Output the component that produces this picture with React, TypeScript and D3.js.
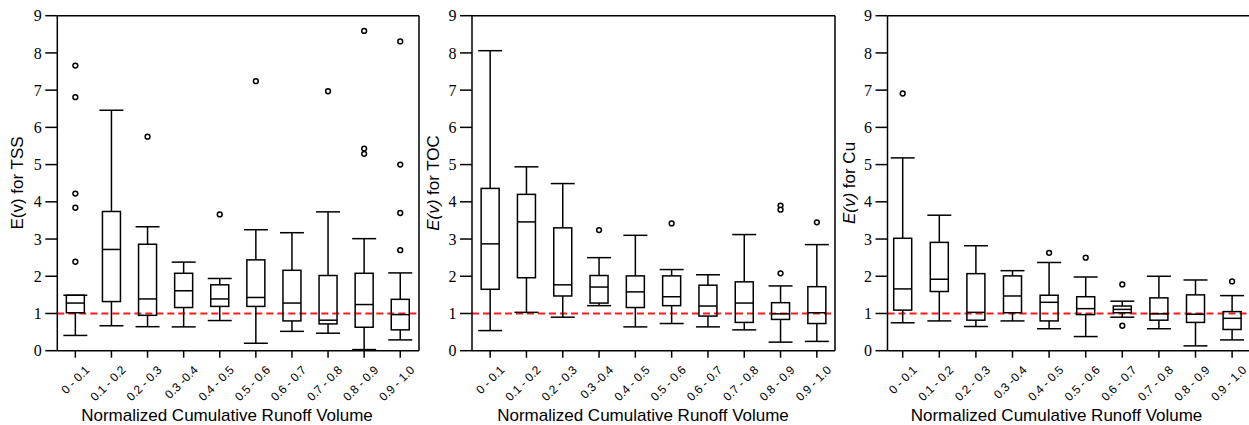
import React from "react";
import * as d3 from "d3";

const categories = ["0 - 0.1", "0.1 - 0.2", "0.2 - 0.3", "0.3 -0.4", "0.4 - 0.5", "0.5 - 0.6", "0.6 - 0.7", "0.7 - 0.8", "0.8 - 0.9", "0.9 - 1.0"];
const yTicks = [0, 1, 2, 3, 4, 5, 6, 7, 8, 9];

// [low whisker, Q1, median, Q3, high whisker]
const tssStats = [
  [0.41, 1.02, 1.28, 1.49, 1.49],
  [0.67, 1.32, 2.72, 3.74, 6.46],
  [0.645, 0.95, 1.39, 2.86, 3.33],
  [0.64, 1.16, 1.61, 2.08, 2.38],
  [0.81, 1.19, 1.39, 1.77, 1.94],
  [0.2, 1.19, 1.43, 2.44, 3.25],
  [0.52, 0.8, 1.28, 2.16, 3.17],
  [0.47, 0.72, 0.82, 2.02, 3.73],
  [0.03, 0.63, 1.24, 2.08, 3.01],
  [0.29, 0.56, 0.97, 1.38, 2.09],
];
const tssOutliers = [
  [7.66, 6.81, 4.22, 3.84, 2.39],
  [],
  [5.75],
  [],
  [3.66],
  [7.24],
  [],
  [6.97],
  [8.59, 5.43, 5.29],
  [8.31, 5.0, 3.7, 2.7],
];

const tocStats = [
  [0.54, 1.65, 2.87, 4.36, 8.06],
  [1.03, 1.96, 3.46, 4.2, 4.94],
  [0.9, 1.47, 1.77, 3.3, 4.49],
  [1.21, 1.28, 1.71, 2.02, 2.5],
  [0.64, 1.16, 1.58, 2.01, 3.1],
  [0.73, 1.21, 1.45, 2.01, 2.18],
  [0.64, 0.93, 1.2, 1.76, 2.04],
  [0.56, 0.76, 1.28, 1.85, 3.12],
  [0.23, 0.84, 0.99, 1.29, 1.74],
  [0.25, 0.73, 1.02, 1.72, 2.85],
];
const tocOutliers = [
  [], [], [], [3.24], [], [3.42], [], [], [3.9, 3.79, 2.08], [3.45],
];

const cuStats = [
  [0.75, 1.09, 1.66, 3.02, 5.18],
  [0.8, 1.59, 1.92, 2.91, 3.64],
  [0.65, 0.82, 1.03, 2.07, 2.82],
  [0.8, 1.02, 1.47, 2.01, 2.15],
  [0.59, 0.8, 1.3, 1.49, 2.37],
  [0.38, 0.97, 1.13, 1.45, 1.98],
  [0.9, 1.02, 1.11, 1.2, 1.33],
  [0.59, 0.82, 0.99, 1.42, 2.0],
  [0.13, 0.76, 0.98, 1.5, 1.9],
  [0.29, 0.57, 0.87, 1.05, 1.48],
];
const cuOutliers = [
  [6.91], [], [], [], [2.63], [2.5], [1.78, 0.67], [], [], [1.86],
];

const referenceLine = 1;

const SANS = "'Liberation Sans', Arial, sans-serif";
const SERIF = "'Liberation Serif', 'Times New Roman', serif";

type PanelCfg = {
  stats: number[][];
  outliers: number[][];
  name: string;
  italic: boolean;
  axisLeft: number;
  right: number;
  bandStart: number;
  bandEnd: number;
  titleX: number;
  yTitleX: number;
  drawRight: boolean;
};

const TOP = 15.7;
const BOTTOM = 350.7;

function Panel({ cfg }: { cfg: PanelCfg }) {
  const y = d3.scaleLinear().domain([0, 9]).range([BOTTOM, TOP]);
  const x = d3.scaleBand<string>().domain(categories).range([cfg.bandStart, cfg.bandEnd]).padding(0);
  const boxW = 18;
  const capW = 24;
  const labelEnd = cfg.axisLeft - 15.5;
  return (
    <g>
      {/* reference line */}
      <line x1={cfg.axisLeft} x2={cfg.right} y1={y(referenceLine)} y2={y(referenceLine)} stroke="#ff1a1a" strokeWidth={2} strokeDasharray="7,4" />
      {/* frame */}
      <line x1={cfg.axisLeft} x2={cfg.axisLeft} y1={TOP} y2={BOTTOM} stroke="#000" strokeWidth={1.5} />
      <line x1={cfg.axisLeft} x2={cfg.right} y1={BOTTOM} y2={BOTTOM} stroke="#000" strokeWidth={1.5} />
      <line x1={cfg.axisLeft} x2={cfg.right} y1={TOP} y2={TOP} stroke="#000" strokeWidth={1.5} />
      {cfg.drawRight && <line x1={cfg.right} x2={cfg.right} y1={TOP} y2={BOTTOM} stroke="#000" strokeWidth={1.5} />}
      {/* y ticks */}
      {yTicks.map((t) => (
        <g key={t}>
          <line x1={cfg.axisLeft - 12} x2={cfg.axisLeft} y1={y(t)} y2={y(t)} stroke="#000" strokeWidth={1.5} />
          <text x={labelEnd} y={y(t)} dy="0.35em" textAnchor="end" fontFamily={SERIF} fontSize={16} fill="#000">{t}</text>
        </g>
      ))}
      {/* x ticks */}
      {categories.map((c) => {
        const cx = (x(c) as number) + x.bandwidth() / 2;
        return (
          <g key={c}>
            <line x1={cx} x2={cx} y1={BOTTOM} y2={BOTTOM + 7} stroke="#000" strokeWidth={1.5} />
            <text transform={`translate(${cx + 15},${BOTTOM + 20}) rotate(-45)`} textAnchor="end" fontFamily={SANS} fontSize={12} fill="#000">{c}</text>
          </g>
        );
      })}
      {/* boxes */}
      {categories.map((c, i) => {
        const cx = (x(c) as number) + x.bandwidth() / 2;
        const [lo, q1, med, q3, hi] = cfg.stats[i];
        return (
          <g key={"b" + c} stroke="#000" strokeWidth={1.5} fill="none">
            <line x1={cx} x2={cx} y1={y(lo)} y2={y(q1)} />
            <line x1={cx} x2={cx} y1={y(q3)} y2={y(hi)} />
            <line x1={cx - capW / 2} x2={cx + capW / 2} y1={y(lo)} y2={y(lo)} />
            <line x1={cx - capW / 2} x2={cx + capW / 2} y1={y(hi)} y2={y(hi)} />
            <rect x={cx - boxW / 2} y={y(q3)} width={boxW} height={y(q1) - y(q3)} fill="none" />
            <line x1={cx - boxW / 2} x2={cx + boxW / 2} y1={y(med)} y2={y(med)} />
            {cfg.outliers[i].map((o, k) => (
              <circle key={k} cx={cx} cy={y(o)} r={2.4} fill="#fff" />
            ))}
          </g>
        );
      })}
      {/* titles */}
      <text x={cfg.titleX} y={421} textAnchor="middle" fontFamily={SANS} fontSize={17} fill="#000">Normalized Cumulative Runoff Volume</text>
      <text transform={`translate(${cfg.yTitleX},183) rotate(-90)`} textAnchor="middle" dy="0.35em" fontFamily={SANS} fontSize={17} fill="#000">
        <tspan fontStyle={cfg.italic ? "italic" : "normal"}>E(v)</tspan>
        <tspan> for {cfg.name}</tspan>
      </text>
    </g>
  );
}

const panels: PanelCfg[] = [
  { stats: tssStats, outliers: tssOutliers, name: "TSS", italic: false, axisLeft: 57.3, right: 419, bandStart: 57.3, bandEnd: 418.3, titleX: 227, yTitleX: 17, drawRight: true },
  { stats: tocStats, outliers: tocOutliers, name: "TOC", italic: true, axisLeft: 472, right: 835, bandStart: 472, bandEnd: 835, titleX: 643, yTitleX: 432.7, drawRight: true },
  { stats: cuStats, outliers: cuOutliers, name: "Cu", italic: true, axisLeft: 887.5, right: 1252, bandStart: 884.4, bandEnd: 1250.4, titleX: 1056.5, yTitleX: 849, drawRight: true },
];

export default function App() {
  return (
    <svg width={1249} height={425} style={{ position: "absolute", left: 0, top: 0, background: "#fff" }}>
      <rect width={1249} height={425} fill="#fff" />
      {panels.map((p, i) => (
        <Panel key={i} cfg={p} />
      ))}
    </svg>
  );
}
